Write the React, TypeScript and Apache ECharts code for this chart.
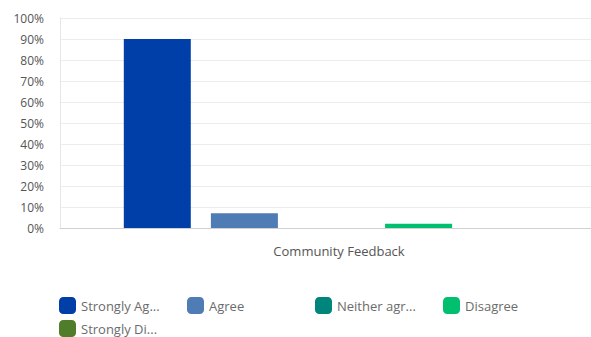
import React, { useEffect, useRef } from "react";
import * as echarts from "echarts";

const categories = ["Community Feedback"];
const seriesNames = [
  "Strongly Agree",
  "Agree",
  "Neither agree nor disagree",
  "Disagree",
  "Strongly Disagree",
];
const seriesValues = [90, 7, 0, 2, 0];
const seriesColors = ["#013fa8", "#507cb6", "#00857d", "#00bf6f", "#507d2a"];

export default function App() {
  const ref = useRef<HTMLDivElement>(null);
  useEffect(() => {
    if (!ref.current) return;
    const chart = echarts.init(ref.current, undefined, { renderer: "svg" });
    const font = "'Open Sans', sans-serif";
    chart.setOption({
      animation: false,
      grid: { left: 60, top: 18, right: 0, height: 210, containLabel: false },
      legend: {
        left: 59,
        top: 297,
        width: 530,
        padding: 0,
        orient: "horizontal",
        itemWidth: 17,
        itemHeight: 17,
        itemGap: 6,
        icon: "roundRect",
        formatter: (name: string) => (name.length > 12 ? name.slice(0, 11) + "..." : name),
        textStyle: {
          fontFamily: font,
          fontSize: 13,
          color: "#6b6b6b",
          width: 100,
          lineHeight: 17,
          padding: 0,
        },
        data: seriesNames,
      },
      xAxis: {
        type: "category",
        data: categories,
        axisLine: { lineStyle: { color: "#d0d0d0", width: 1 } },
        axisTick: { show: false },
        axisLabel: {
          fontFamily: font,
          fontSize: 13,
          color: "#555",
          margin: 16,
          padding: [0, 0, 0, 15],
        },
      },
      yAxis: {
        type: "value",
        min: 0,
        max: 100,
        interval: 10,
        axisLine: { show: true, lineStyle: { color: "#e6e6e6" } },
        axisTick: { show: false },
        splitLine: { lineStyle: { color: "#ececec" } },
        axisLabel: {
          formatter: "{value}%",
          fontFamily: font,
          fontSize: 12,
          color: "#555",
          margin: 16,
        },
      },
      series: seriesNames.map((name, i) => ({
        name,
        type: "bar",
        data: [seriesValues[i]],
        barWidth: 67,
        barGap: "30%",
        itemStyle: { color: seriesColors[i] },
      })),
    });
    return () => chart.dispose();
  }, []);
  return (
    <div style={{ width: 591, height: 337, position: "absolute", left: 0, top: 0, overflow: "hidden" }}>
      <div ref={ref} style={{ width: 603, height: 337 }} />
    </div>
  );
}
